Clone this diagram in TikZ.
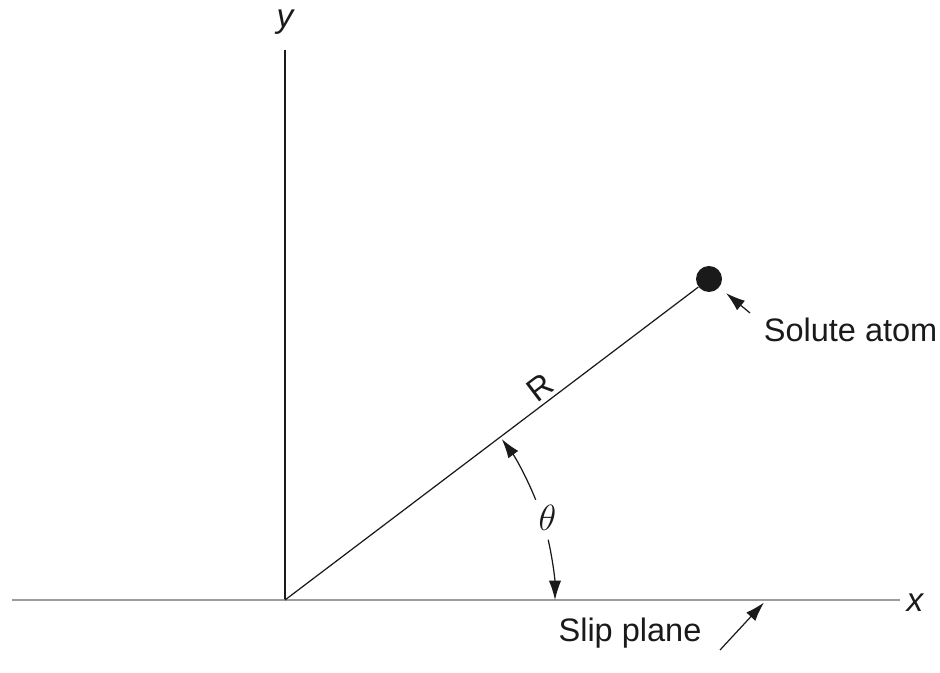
\documentclass[tikz,border=0pt]{standalone}
\usepackage{fontspec}
\setmainfont{Liberation Sans}
\usepackage{tikz}
\usetikzlibrary{arrows.meta, positioning}
\definecolor{InkBlack}{HTML}{1A1A1A}
\definecolor{PlaneGray}{HTML}{9C9C9C}

\begin{document}
\begin{tikzpicture}[
        axis/.style={line width=0.7pt, InkBlack},
        plane/.style={line width=1.3pt, PlaneGray},
        lbl/.style={font=\fontsize{18.5}{22}\selectfont, text=InkBlack, inner sep=2pt},
        pointer/.style={-{Latex[length=11pt, width=7pt]}, line width=0.7pt, InkBlack}]

        \useasboundingbox (-5.7,-1.46) rectangle (13.1,12.0);

        % Axes
        \coordinate (O)      at (0,0);
        \coordinate (ytop)   at (0,11.0);
        \coordinate (xleft)  at (-5.46,0);
        \coordinate (xright) at (12.3,0);
        \draw[axis]  (O) -- (ytop);
        \draw[plane] (xleft) -- (xright);
        \node[lbl, font=\fontsize{19}{22}\selectfont\itshape] (ylab) at (0,11.56) {y};
        \node[lbl, font=\fontsize{19}{22}\selectfont\itshape] (xlab) at (12.6,-0.06) {x};

        % Solute atom and radius
        \node[circle, fill=InkBlack, minimum size=0.52cm, inner sep=0pt] (atom) at (8.48,6.42) {};
        \draw[axis] (O) -- (atom) node[lbl, pos=0.64, above, sloped] (rlab) {R};

        % Angle theta
        \node[lbl, font=\fontsize{21}{24}\selectfont] (theta) at (17.3:5.5) {$\theta$};
        \coordinate (arcup)  at (21.8:5.4);
        \coordinate (arclow) at (12.9:5.4);
        \draw[pointer] (arcup)  arc[start angle=21.8, end angle=36.6, radius=5.4];
        \draw[pointer] (arclow) arc[start angle=12.9, end angle=0, radius=5.4];

        % Labels with pointers
        \node[lbl, anchor=west] (solute) at (9.5,5.4) {Solute atom};
        \coordinate (soltail) at (9.3,5.74);
        \draw[pointer, shorten >=5pt] (soltail) -- (atom);

        \node[lbl] (slip) at (6.9,-0.66) {Slip plane};
        \coordinate (sliptail) at (8.7,-1.0);
        \coordinate (sliptip)  at (9.58,-0.05);
        \draw[pointer] (sliptail) -- (sliptip);
\end{tikzpicture}
\end{document}
